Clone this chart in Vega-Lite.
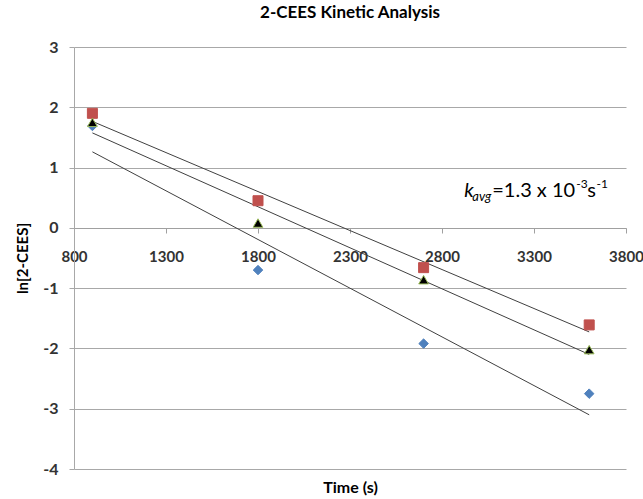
{
  "$schema": "https://vega.github.io/schema/vega-lite/v6.json",
  "width": 552,
  "height": 422,
  "autosize": {"type": "none"},
  "padding": {"left": 74, "top": 47, "right": 17, "bottom": 30},
  "background": "white",
  "title": {"text": "2-CEES Kinetic Analysis", "fontSize": 17, "font": "Lato", "fontWeight": "bold", "color": "#000000", "anchor": "middle", "offset": 17},
  "config": {"view": {"stroke": null}},
  "datasets": {
    "pts": [
      {"series": "C", "t": 900, "v": 1.69},
      {"series": "C", "t": 1800, "v": -0.70},
      {"series": "C", "t": 2700, "v": -1.92},
      {"series": "C", "t": 3600, "v": -2.75},
      {"series": "A", "t": 900, "v": 1.90},
      {"series": "A", "t": 1800, "v": 0.45},
      {"series": "A", "t": 2700, "v": -0.66},
      {"series": "A", "t": 3600, "v": -1.61},
      {"series": "B", "t": 900, "v": 1.75},
      {"series": "B", "t": 1800, "v": 0.08},
      {"series": "B", "t": 2700, "v": -0.86},
      {"series": "B", "t": 3600, "v": -2.02}
    ],
    "note": [
      {"txt": "k", "t": 2921, "v": 0.514, "kind": "main_i"},
      {"txt": "avg", "t": 2965, "v": 0.44, "kind": "sub"},
      {"txt": "=1.3 x 10", "t": 3073, "v": 0.514, "kind": "main"},
      {"txt": "-3", "t": 3530, "v": 0.66, "kind": "sup"},
      {"txt": "s", "t": 3590, "v": 0.514, "kind": "main"},
      {"txt": "-1", "t": 3640, "v": 0.66, "kind": "sup"}
    ]
  },
  "layer": [
    {
      "data": {"name": "pts"},
      "transform": [{"regression": "v", "on": "t", "groupby": ["series"], "extent": [900, 3600]}],
      "mark": {"type": "line", "color": "#404040", "strokeWidth": 1},
      "encoding": {
        "x": {
          "field": "t", "type": "quantitative",
          "scale": {"domain": [800, 3800], "nice": false, "zero": false},
          "axis": {
            "values": [800, 1300, 1800, 2300, 2800, 3300, 3800],
            "labelExpr": "'' + datum.value",
            "offset": -241,
            "title": "Time (s)",
            "titleY": 259,
            "titleBaseline": "middle",
            "grid": false,
            "domainColor": "#a0a0a0",
            "tickColor": "#a0a0a0",
            "tickSize": 5,
            "labelPadding": 16,
            "labelFontSize": 15,
            "labelFont": "Lato",
            "labelFontWeight": "bold",
            "labelColor": "#333333",
            "labelFlush": false,
            "labelOverlap": false,
            "titleFontSize": 16,
            "titleFont": "Lato",
            "titleFontWeight": "bold",
            "titleColor": "#000000"
          }
        },
        "y": {
          "field": "v", "type": "quantitative",
          "scale": {"domain": [-4, 3], "nice": false, "zero": false},
          "axis": {
            "values": [-4, -3, -2, -1, 0, 1, 2, 3],
            "labelExpr": "'' + datum.value",
            "grid": true,
            "gridColor": "#a8a8a8",
            "domainColor": "#a8a8a8",
            "tickColor": "#a8a8a8",
            "tickSize": 5,
            "labelPadding": 11,
            "labelFontSize": 16,
            "labelFont": "Lato",
            "labelFontWeight": "bold",
            "labelColor": "#333333",
            "title": "ln[2-CEES]",
            "titleFontSize": 15,
            "titleFont": "Lato",
            "titleFontWeight": "bold",
            "titleColor": "#000000",
            "titlePadding": 12
          }
        },
        "detail": {"field": "series"}
      }
    },
    {
      "data": {"name": "pts"},
      "mark": {"type": "point", "filled": true, "strokeWidth": 1, "opacity": 1},
      "encoding": {
        "x": {"field": "t", "type": "quantitative"},
        "y": {"field": "v", "type": "quantitative"},
        "shape": {"field": "series", "type": "nominal", "scale": {"domain": ["A", "B", "C"], "range": ["square", "triangle-up", "diamond"]}, "legend": null},
        "fill": {"field": "series", "type": "nominal", "scale": {"domain": ["A", "B", "C"], "range": ["#c0504d", "#000000", "#4f81bd"]}, "legend": null},
        "stroke": {"field": "series", "type": "nominal", "scale": {"domain": ["A", "B", "C"], "range": ["#c0504d", "#9bbb59", "#4f81bd"]}, "legend": null},
        "size": {"field": "series", "type": "nominal", "scale": {"domain": ["A", "B", "C"], "range": [100, 90, 45]}, "legend": null}
      }
    },
    {
      "data": {"name": "note"},
      "transform": [{"filter": "datum.kind === 'main'"}],
      "mark": {"type": "text", "align": "left", "baseline": "alphabetic", "font": "Lato", "fontSize": 20, "color": "#000000"},
      "encoding": {
        "x": {"field": "t", "type": "quantitative"},
        "y": {"field": "v", "type": "quantitative"},
        "text": {"field": "txt"}
      }
    },
    {
      "data": {"name": "note"},
      "transform": [{"filter": "datum.kind === 'main_i'"}],
      "mark": {"type": "text", "align": "left", "baseline": "alphabetic", "font": "Lato", "fontSize": 20, "fontStyle": "italic", "color": "#000000"},
      "encoding": {
        "x": {"field": "t", "type": "quantitative"},
        "y": {"field": "v", "type": "quantitative"},
        "text": {"field": "txt"}
      }
    },
    {
      "data": {"name": "note"},
      "transform": [{"filter": "datum.kind === 'sub'"}],
      "mark": {"type": "text", "align": "left", "baseline": "alphabetic", "font": "Lato", "fontSize": 13, "fontStyle": "italic", "color": "#000000"},
      "encoding": {
        "x": {"field": "t", "type": "quantitative"},
        "y": {"field": "v", "type": "quantitative"},
        "text": {"field": "txt"}
      }
    },
    {
      "data": {"name": "note"},
      "transform": [{"filter": "datum.kind === 'sup'"}],
      "mark": {"type": "text", "align": "left", "baseline": "alphabetic", "font": "Lato", "fontSize": 12, "color": "#000000"},
      "encoding": {
        "x": {"field": "t", "type": "quantitative"},
        "y": {"field": "v", "type": "quantitative"},
        "text": {"field": "txt"}
      }
    }
  ]
}
